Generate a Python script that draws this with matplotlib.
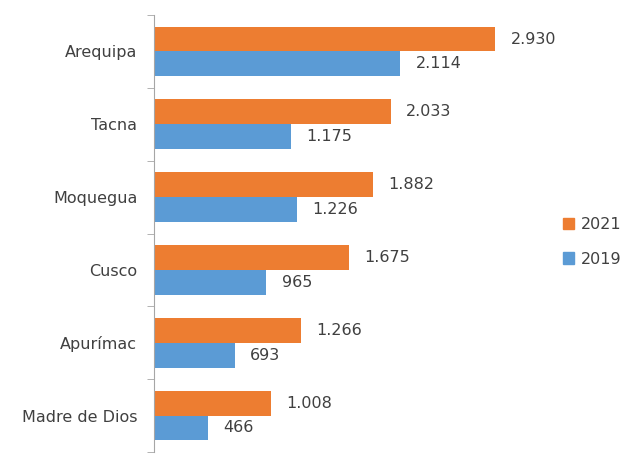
import matplotlib

matplotlib.use("Agg")
import numpy as np
import matplotlib.pyplot as plt
from matplotlib.patches import Patch

regions = ["Arequipa", "Tacna", "Moquegua", "Cusco", "Apurímac", "Madre de Dios"]
v2021 = [2930, 2033, 1882, 1675, 1266, 1008]
v2019 = [2114, 1175, 1226, 965, 693, 466]

orange = "#ED7D31"
blue = "#5B9BD5"
text_col = "#404040"


def fmt(v):
    # thousands separator with a dot
    return f"{v:,}".replace(",", ".")


fig = plt.figure(figsize=(6.2, 4.55), dpi=100)
ax = fig.add_axes([154 / 620, 3 / 455, 390 / 620, 437 / 455])

y = np.arange(len(regions))[::-1]
h = 0.34

ax.barh(y + h / 2, v2021, height=h, color=orange, label="2021")
ax.barh(y - h / 2, v2019, height=h, color=blue, label="2019")

for yi, a, b in zip(y, v2021, v2019):
    ax.annotate(fmt(a), (a, yi + h / 2), xytext=(11, 0), textcoords="offset points",
                va="center", ha="left", fontsize=11.5, color=text_col)
    ax.annotate(fmt(b), (b, yi - h / 2), xytext=(11, 0), textcoords="offset points",
                va="center", ha="left", fontsize=11.5, color=text_col)

ax.set_xlim(0, 3350)
ax.set_ylim(-0.5, len(regions) - 0.5)

ax.set_yticks(y)
ax.set_yticklabels(regions, fontsize=11.5, color=text_col)
ax.tick_params(axis="y", length=0, pad=12)
ax.set_yticks(np.arange(-0.5, len(regions), 1), minor=True)
ax.tick_params(axis="y", which="minor", length=5, color="#a6a6a6", direction="out")
ax.set_xticks([])

for s in ["top", "right", "bottom"]:
    ax.spines[s].set_visible(False)
ax.spines["left"].set_color("#a6a6a6")

handles = [Patch(color=orange, label="2021"), Patch(color=blue, label="2019")]
fig.legend(handles=handles, loc="center left", bbox_to_anchor=(563 / 620, 1 - 242 / 455),
           frameon=False, fontsize=11.5, handlelength=0.7, handleheight=0.7,
           handletextpad=0.4, labelspacing=1.2, labelcolor=text_col,
           borderpad=0, borderaxespad=0)

fig.savefig("out.png", dpi=100)
